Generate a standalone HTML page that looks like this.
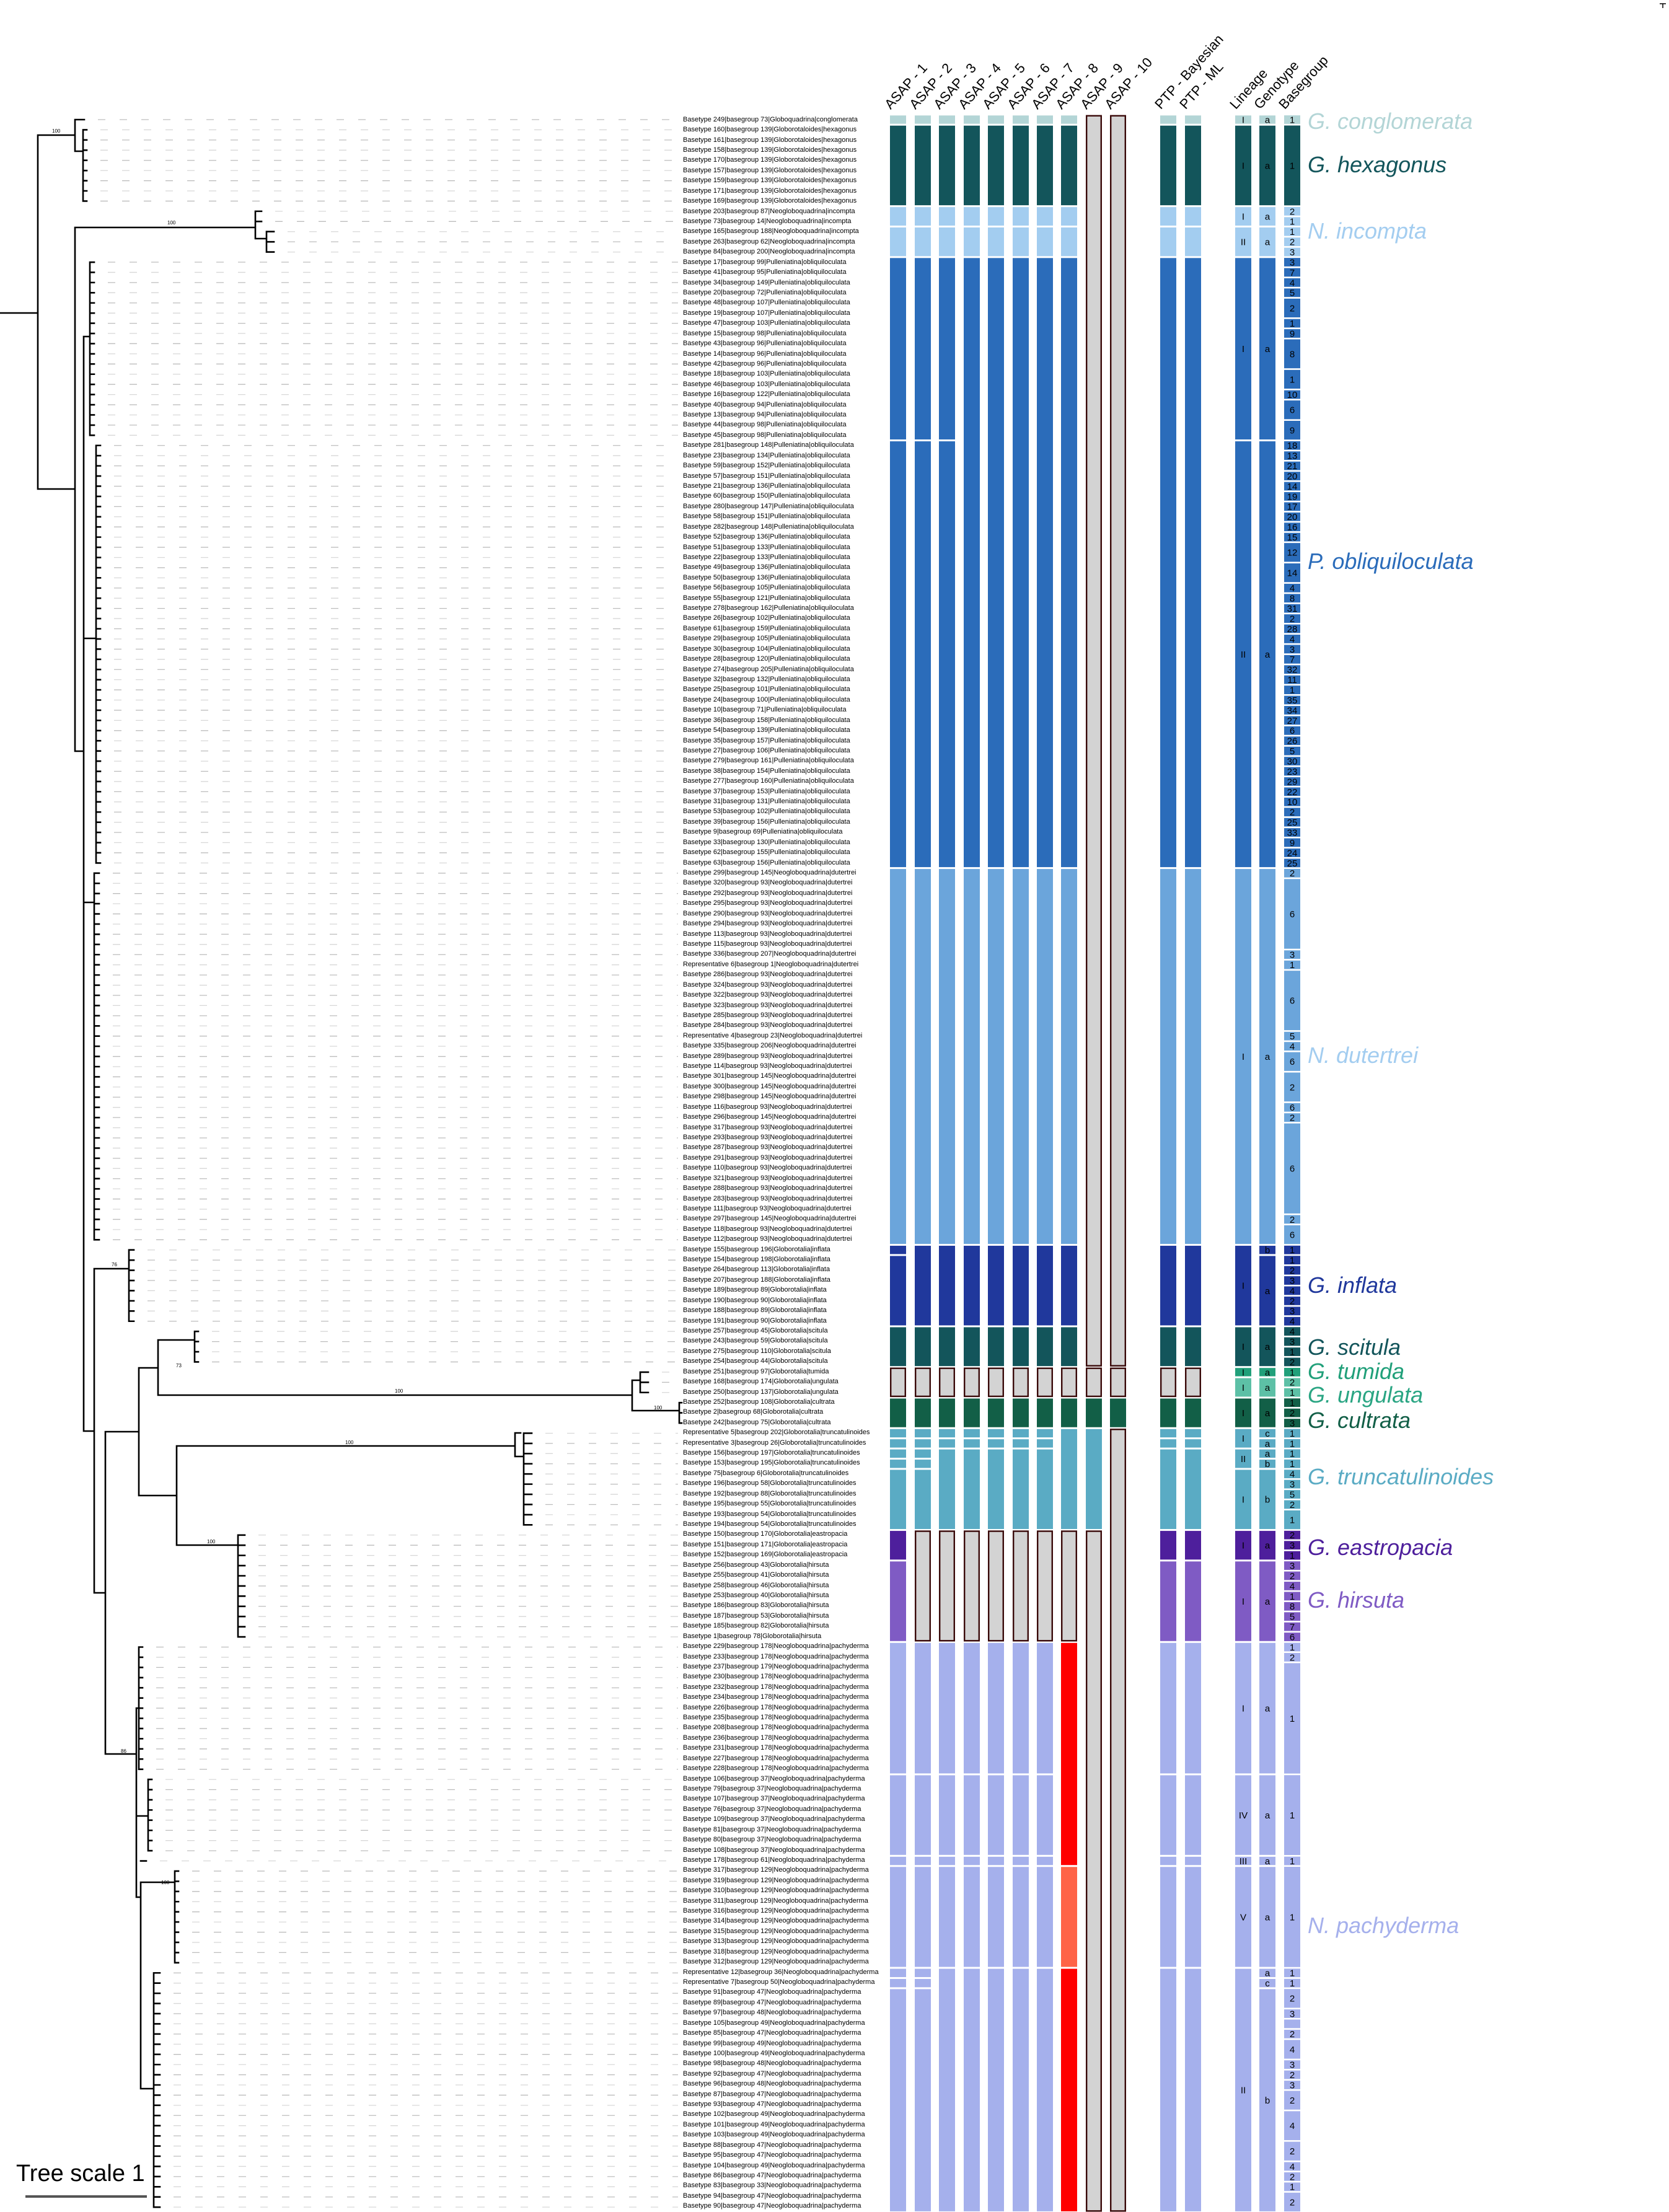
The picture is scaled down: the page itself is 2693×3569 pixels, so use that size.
<!DOCTYPE html>
<html><head><meta charset="utf-8">
<style>
html,body{margin:0;padding:0;background:#fff;}
body{width:2693px;height:3569px;position:relative;overflow:hidden;font-family:"Liberation Sans",sans-serif;}
#labels{position:absolute;left:1102px;top:184.8px;font-size:11px;color:#000;white-space:nowrap;}
#labels div{height:16.43px;line-height:16.43px;}
.hd{position:absolute;font-size:22px;color:#000;transform-origin:0 100%;transform:rotate(-48deg);white-space:nowrap;line-height:22px;}
.sp{position:absolute;left:2110px;font-style:italic;font-size:36px;line-height:40px;white-space:nowrap;}
#svg{position:absolute;left:0;top:0;}
</style></head><body>
<svg id="svg" width="2693" height="3569" xmlns="http://www.w3.org/2000/svg"></svg>

<div class="hd" style="left:1440px;top:158px">ASAP - 1</div>
<div class="hd" style="left:1480px;top:158px">ASAP - 2</div>
<div class="hd" style="left:1519px;top:158px">ASAP - 3</div>
<div class="hd" style="left:1559px;top:158px">ASAP - 4</div>
<div class="hd" style="left:1598px;top:158px">ASAP - 5</div>
<div class="hd" style="left:1638px;top:158px">ASAP - 6</div>
<div class="hd" style="left:1677px;top:158px">ASAP - 7</div>
<div class="hd" style="left:1716px;top:158px">ASAP - 8</div>
<div class="hd" style="left:1756px;top:158px">ASAP - 9</div>
<div class="hd" style="left:1795px;top:158px">ASAP - 10</div>
<div class="hd" style="left:1876px;top:158px">PTP - Bayesian</div>
<div class="hd" style="left:1916px;top:158px">PTP - ML</div>
<div class="hd" style="left:1997px;top:158px">Lineage</div>
<div class="hd" style="left:2036px;top:158px">Genotype</div>
<div class="hd" style="left:2076px;top:158px">Basegroup</div>

<div class="sp" style="top:176px;color:#b3d5d6">G. conglomerata</div>
<div class="sp" style="top:246px;color:#13555b">G. hexagonus</div>
<div class="sp" style="top:353px;color:#a3cdf0">N. incompta</div>
<div class="sp" style="top:886px;color:#2b6cba">P. obliquiloculata</div>
<div class="sp" style="top:1683px;color:#a3cdf0">N. dutertrei</div>
<div class="sp" style="top:2054px;color:#20389c">G. inflata</div>
<div class="sp" style="top:2154px;color:#13555b">G. scitula</div>
<div class="sp" style="top:2193px;color:#21a07a">G. tumida</div>
<div class="sp" style="top:2231px;color:#2aa583">G. ungulata</div>
<div class="sp" style="top:2272px;color:#125f47">G. cultrata</div>
<div class="sp" style="top:2363px;color:#5aabc4">G. truncatulinoides</div>
<div class="sp" style="top:2477px;color:#4e1f9c">G. eastropacia</div>
<div class="sp" style="top:2562px;color:#7f5bc4">G. hirsuta</div>
<div class="sp" style="top:3087px;color:#a5b0ec">N. pachyderma</div>

<div style="position:absolute;left:26px;top:3486px;font-size:38px;line-height:42px;">Tree scale 1</div>

<div id="labels">
<div>Basetype 249|basegroup 73|Globoquadrina|conglomerata</div>
<div>Basetype 160|basegroup 139|Globorotaloides|hexagonus</div>
<div>Basetype 161|basegroup 139|Globorotaloides|hexagonus</div>
<div>Basetype 158|basegroup 139|Globorotaloides|hexagonus</div>
<div>Basetype 170|basegroup 139|Globorotaloides|hexagonus</div>
<div>Basetype 157|basegroup 139|Globorotaloides|hexagonus</div>
<div>Basetype 159|basegroup 139|Globorotaloides|hexagonus</div>
<div>Basetype 171|basegroup 139|Globorotaloides|hexagonus</div>
<div>Basetype 169|basegroup 139|Globorotaloides|hexagonus</div>
<div>Basetype 203|basegroup 87|Neogloboquadrina|incompta</div>
<div>Basetype 73|basegroup 14|Neogloboquadrina|incompta</div>
<div>Basetype 165|basegroup 188|Neogloboquadrina|incompta</div>
<div>Basetype 263|basegroup 62|Neogloboquadrina|incompta</div>
<div>Basetype 84|basegroup 200|Neogloboquadrina|incompta</div>
<div>Basetype 17|basegroup 99|Pulleniatina|obliquiloculata</div>
<div>Basetype 41|basegroup 95|Pulleniatina|obliquiloculata</div>
<div>Basetype 34|basegroup 149|Pulleniatina|obliquiloculata</div>
<div>Basetype 20|basegroup 72|Pulleniatina|obliquiloculata</div>
<div>Basetype 48|basegroup 107|Pulleniatina|obliquiloculata</div>
<div>Basetype 19|basegroup 107|Pulleniatina|obliquiloculata</div>
<div>Basetype 47|basegroup 103|Pulleniatina|obliquiloculata</div>
<div>Basetype 15|basegroup 98|Pulleniatina|obliquiloculata</div>
<div>Basetype 43|basegroup 96|Pulleniatina|obliquiloculata</div>
<div>Basetype 14|basegroup 96|Pulleniatina|obliquiloculata</div>
<div>Basetype 42|basegroup 96|Pulleniatina|obliquiloculata</div>
<div>Basetype 18|basegroup 103|Pulleniatina|obliquiloculata</div>
<div>Basetype 46|basegroup 103|Pulleniatina|obliquiloculata</div>
<div>Basetype 16|basegroup 122|Pulleniatina|obliquiloculata</div>
<div>Basetype 40|basegroup 94|Pulleniatina|obliquiloculata</div>
<div>Basetype 13|basegroup 94|Pulleniatina|obliquiloculata</div>
<div>Basetype 44|basegroup 98|Pulleniatina|obliquiloculata</div>
<div>Basetype 45|basegroup 98|Pulleniatina|obliquiloculata</div>
<div>Basetype 281|basegroup 148|Pulleniatina|obliquiloculata</div>
<div>Basetype 23|basegroup 134|Pulleniatina|obliquiloculata</div>
<div>Basetype 59|basegroup 152|Pulleniatina|obliquiloculata</div>
<div>Basetype 57|basegroup 151|Pulleniatina|obliquiloculata</div>
<div>Basetype 21|basegroup 136|Pulleniatina|obliquiloculata</div>
<div>Basetype 60|basegroup 150|Pulleniatina|obliquiloculata</div>
<div>Basetype 280|basegroup 147|Pulleniatina|obliquiloculata</div>
<div>Basetype 58|basegroup 151|Pulleniatina|obliquiloculata</div>
<div>Basetype 282|basegroup 148|Pulleniatina|obliquiloculata</div>
<div>Basetype 52|basegroup 136|Pulleniatina|obliquiloculata</div>
<div>Basetype 51|basegroup 133|Pulleniatina|obliquiloculata</div>
<div>Basetype 22|basegroup 133|Pulleniatina|obliquiloculata</div>
<div>Basetype 49|basegroup 136|Pulleniatina|obliquiloculata</div>
<div>Basetype 50|basegroup 136|Pulleniatina|obliquiloculata</div>
<div>Basetype 56|basegroup 105|Pulleniatina|obliquiloculata</div>
<div>Basetype 55|basegroup 121|Pulleniatina|obliquiloculata</div>
<div>Basetype 278|basegroup 162|Pulleniatina|obliquiloculata</div>
<div>Basetype 26|basegroup 102|Pulleniatina|obliquiloculata</div>
<div>Basetype 61|basegroup 159|Pulleniatina|obliquiloculata</div>
<div>Basetype 29|basegroup 105|Pulleniatina|obliquiloculata</div>
<div>Basetype 30|basegroup 104|Pulleniatina|obliquiloculata</div>
<div>Basetype 28|basegroup 120|Pulleniatina|obliquiloculata</div>
<div>Basetype 274|basegroup 205|Pulleniatina|obliquiloculata</div>
<div>Basetype 32|basegroup 132|Pulleniatina|obliquiloculata</div>
<div>Basetype 25|basegroup 101|Pulleniatina|obliquiloculata</div>
<div>Basetype 24|basegroup 100|Pulleniatina|obliquiloculata</div>
<div>Basetype 10|basegroup 71|Pulleniatina|obliquiloculata</div>
<div>Basetype 36|basegroup 158|Pulleniatina|obliquiloculata</div>
<div>Basetype 54|basegroup 139|Pulleniatina|obliquiloculata</div>
<div>Basetype 35|basegroup 157|Pulleniatina|obliquiloculata</div>
<div>Basetype 27|basegroup 106|Pulleniatina|obliquiloculata</div>
<div>Basetype 279|basegroup 161|Pulleniatina|obliquiloculata</div>
<div>Basetype 38|basegroup 154|Pulleniatina|obliquiloculata</div>
<div>Basetype 277|basegroup 160|Pulleniatina|obliquiloculata</div>
<div>Basetype 37|basegroup 153|Pulleniatina|obliquiloculata</div>
<div>Basetype 31|basegroup 131|Pulleniatina|obliquiloculata</div>
<div>Basetype 53|basegroup 102|Pulleniatina|obliquiloculata</div>
<div>Basetype 39|basegroup 156|Pulleniatina|obliquiloculata</div>
<div>Basetype 9|basegroup 69|Pulleniatina|obliquiloculata</div>
<div>Basetype 33|basegroup 130|Pulleniatina|obliquiloculata</div>
<div>Basetype 62|basegroup 155|Pulleniatina|obliquiloculata</div>
<div>Basetype 63|basegroup 156|Pulleniatina|obliquiloculata</div>
<div>Basetype 299|basegroup 145|Neogloboquadrina|dutertrei</div>
<div>Basetype 320|basegroup 93|Neogloboquadrina|dutertrei</div>
<div>Basetype 292|basegroup 93|Neogloboquadrina|dutertrei</div>
<div>Basetype 295|basegroup 93|Neogloboquadrina|dutertrei</div>
<div>Basetype 290|basegroup 93|Neogloboquadrina|dutertrei</div>
<div>Basetype 294|basegroup 93|Neogloboquadrina|dutertrei</div>
<div>Basetype 113|basegroup 93|Neogloboquadrina|dutertrei</div>
<div>Basetype 115|basegroup 93|Neogloboquadrina|dutertrei</div>
<div>Basetype 336|basegroup 207|Neogloboquadrina|dutertrei</div>
<div>Representative 6|basegroup 1|Neogloboquadrina|dutertrei</div>
<div>Basetype 286|basegroup 93|Neogloboquadrina|dutertrei</div>
<div>Basetype 324|basegroup 93|Neogloboquadrina|dutertrei</div>
<div>Basetype 322|basegroup 93|Neogloboquadrina|dutertrei</div>
<div>Basetype 323|basegroup 93|Neogloboquadrina|dutertrei</div>
<div>Basetype 285|basegroup 93|Neogloboquadrina|dutertrei</div>
<div>Basetype 284|basegroup 93|Neogloboquadrina|dutertrei</div>
<div>Representative 4|basegroup 23|Neogloboquadrina|dutertrei</div>
<div>Basetype 335|basegroup 206|Neogloboquadrina|dutertrei</div>
<div>Basetype 289|basegroup 93|Neogloboquadrina|dutertrei</div>
<div>Basetype 114|basegroup 93|Neogloboquadrina|dutertrei</div>
<div>Basetype 301|basegroup 145|Neogloboquadrina|dutertrei</div>
<div>Basetype 300|basegroup 145|Neogloboquadrina|dutertrei</div>
<div>Basetype 298|basegroup 145|Neogloboquadrina|dutertrei</div>
<div>Basetype 116|basegroup 93|Neogloboquadrina|dutertrei</div>
<div>Basetype 296|basegroup 145|Neogloboquadrina|dutertrei</div>
<div>Basetype 317|basegroup 93|Neogloboquadrina|dutertrei</div>
<div>Basetype 293|basegroup 93|Neogloboquadrina|dutertrei</div>
<div>Basetype 287|basegroup 93|Neogloboquadrina|dutertrei</div>
<div>Basetype 291|basegroup 93|Neogloboquadrina|dutertrei</div>
<div>Basetype 110|basegroup 93|Neogloboquadrina|dutertrei</div>
<div>Basetype 321|basegroup 93|Neogloboquadrina|dutertrei</div>
<div>Basetype 288|basegroup 93|Neogloboquadrina|dutertrei</div>
<div>Basetype 283|basegroup 93|Neogloboquadrina|dutertrei</div>
<div>Basetype 111|basegroup 93|Neogloboquadrina|dutertrei</div>
<div>Basetype 297|basegroup 145|Neogloboquadrina|dutertrei</div>
<div>Basetype 118|basegroup 93|Neogloboquadrina|dutertrei</div>
<div>Basetype 112|basegroup 93|Neogloboquadrina|dutertrei</div>
<div>Basetype 155|basegroup 196|Globorotalia|inflata</div>
<div>Basetype 154|basegroup 198|Globorotalia|inflata</div>
<div>Basetype 264|basegroup 113|Globorotalia|inflata</div>
<div>Basetype 207|basegroup 188|Globorotalia|inflata</div>
<div>Basetype 189|basegroup 89|Globorotalia|inflata</div>
<div>Basetype 190|basegroup 90|Globorotalia|inflata</div>
<div>Basetype 188|basegroup 89|Globorotalia|inflata</div>
<div>Basetype 191|basegroup 90|Globorotalia|inflata</div>
<div>Basetype 257|basegroup 45|Globorotalia|scitula</div>
<div>Basetype 243|basegroup 59|Globorotalia|scitula</div>
<div>Basetype 275|basegroup 110|Globorotalia|scitula</div>
<div>Basetype 254|basegroup 44|Globorotalia|scitula</div>
<div>Basetype 251|basegroup 97|Globorotalia|tumida</div>
<div>Basetype 168|basegroup 174|Globorotalia|ungulata</div>
<div>Basetype 250|basegroup 137|Globorotalia|ungulata</div>
<div>Basetype 252|basegroup 108|Globorotalia|cultrata</div>
<div>Basetype 2|basegroup 68|Globorotalia|cultrata</div>
<div>Basetype 242|basegroup 75|Globorotalia|cultrata</div>
<div>Representative 5|basegroup 202|Globorotalia|truncatulinoides</div>
<div>Representative 3|basegroup 26|Globorotalia|truncatulinoides</div>
<div>Basetype 156|basegroup 197|Globorotalia|truncatulinoides</div>
<div>Basetype 153|basegroup 195|Globorotalia|truncatulinoides</div>
<div>Basetype 75|basegroup 6|Globorotalia|truncatulinoides</div>
<div>Basetype 196|basegroup 58|Globorotalia|truncatulinoides</div>
<div>Basetype 192|basegroup 88|Globorotalia|truncatulinoides</div>
<div>Basetype 195|basegroup 55|Globorotalia|truncatulinoides</div>
<div>Basetype 193|basegroup 54|Globorotalia|truncatulinoides</div>
<div>Basetype 194|basegroup 54|Globorotalia|truncatulinoides</div>
<div>Basetype 150|basegroup 170|Globorotalia|eastropacia</div>
<div>Basetype 151|basegroup 171|Globorotalia|eastropacia</div>
<div>Basetype 152|basegroup 169|Globorotalia|eastropacia</div>
<div>Basetype 256|basegroup 43|Globorotalia|hirsuta</div>
<div>Basetype 255|basegroup 41|Globorotalia|hirsuta</div>
<div>Basetype 258|basegroup 46|Globorotalia|hirsuta</div>
<div>Basetype 253|basegroup 40|Globorotalia|hirsuta</div>
<div>Basetype 186|basegroup 83|Globorotalia|hirsuta</div>
<div>Basetype 187|basegroup 53|Globorotalia|hirsuta</div>
<div>Basetype 185|basegroup 82|Globorotalia|hirsuta</div>
<div>Basetype 1|basegroup 78|Globorotalia|hirsuta</div>
<div>Basetype 229|basegroup 178|Neogloboquadrina|pachyderma</div>
<div>Basetype 233|basegroup 178|Neogloboquadrina|pachyderma</div>
<div>Basetype 237|basegroup 179|Neogloboquadrina|pachyderma</div>
<div>Basetype 230|basegroup 178|Neogloboquadrina|pachyderma</div>
<div>Basetype 232|basegroup 178|Neogloboquadrina|pachyderma</div>
<div>Basetype 234|basegroup 178|Neogloboquadrina|pachyderma</div>
<div>Basetype 226|basegroup 178|Neogloboquadrina|pachyderma</div>
<div>Basetype 235|basegroup 178|Neogloboquadrina|pachyderma</div>
<div>Basetype 208|basegroup 178|Neogloboquadrina|pachyderma</div>
<div>Basetype 236|basegroup 178|Neogloboquadrina|pachyderma</div>
<div>Basetype 231|basegroup 178|Neogloboquadrina|pachyderma</div>
<div>Basetype 227|basegroup 178|Neogloboquadrina|pachyderma</div>
<div>Basetype 228|basegroup 178|Neogloboquadrina|pachyderma</div>
<div>Basetype 106|basegroup 37|Neogloboquadrina|pachyderma</div>
<div>Basetype 79|basegroup 37|Neogloboquadrina|pachyderma</div>
<div>Basetype 107|basegroup 37|Neogloboquadrina|pachyderma</div>
<div>Basetype 76|basegroup 37|Neogloboquadrina|pachyderma</div>
<div>Basetype 109|basegroup 37|Neogloboquadrina|pachyderma</div>
<div>Basetype 81|basegroup 37|Neogloboquadrina|pachyderma</div>
<div>Basetype 80|basegroup 37|Neogloboquadrina|pachyderma</div>
<div>Basetype 108|basegroup 37|Neogloboquadrina|pachyderma</div>
<div>Basetype 178|basegroup 61|Neogloboquadrina|pachyderma</div>
<div>Basetype 317|basegroup 129|Neogloboquadrina|pachyderma</div>
<div>Basetype 319|basegroup 129|Neogloboquadrina|pachyderma</div>
<div>Basetype 310|basegroup 129|Neogloboquadrina|pachyderma</div>
<div>Basetype 311|basegroup 129|Neogloboquadrina|pachyderma</div>
<div>Basetype 316|basegroup 129|Neogloboquadrina|pachyderma</div>
<div>Basetype 314|basegroup 129|Neogloboquadrina|pachyderma</div>
<div>Basetype 315|basegroup 129|Neogloboquadrina|pachyderma</div>
<div>Basetype 313|basegroup 129|Neogloboquadrina|pachyderma</div>
<div>Basetype 318|basegroup 129|Neogloboquadrina|pachyderma</div>
<div>Basetype 312|basegroup 129|Neogloboquadrina|pachyderma</div>
<div>Representative 12|basegroup 36|Neogloboquadrina|pachyderma</div>
<div>Representative 7|basegroup 50|Neogloboquadrina|pachyderma</div>
<div>Basetype 91|basegroup 47|Neogloboquadrina|pachyderma</div>
<div>Basetype 89|basegroup 47|Neogloboquadrina|pachyderma</div>
<div>Basetype 97|basegroup 48|Neogloboquadrina|pachyderma</div>
<div>Basetype 105|basegroup 49|Neogloboquadrina|pachyderma</div>
<div>Basetype 85|basegroup 47|Neogloboquadrina|pachyderma</div>
<div>Basetype 99|basegroup 49|Neogloboquadrina|pachyderma</div>
<div>Basetype 100|basegroup 49|Neogloboquadrina|pachyderma</div>
<div>Basetype 98|basegroup 48|Neogloboquadrina|pachyderma</div>
<div>Basetype 92|basegroup 47|Neogloboquadrina|pachyderma</div>
<div>Basetype 96|basegroup 48|Neogloboquadrina|pachyderma</div>
<div>Basetype 87|basegroup 47|Neogloboquadrina|pachyderma</div>
<div>Basetype 93|basegroup 47|Neogloboquadrina|pachyderma</div>
<div>Basetype 102|basegroup 49|Neogloboquadrina|pachyderma</div>
<div>Basetype 101|basegroup 49|Neogloboquadrina|pachyderma</div>
<div>Basetype 103|basegroup 49|Neogloboquadrina|pachyderma</div>
<div>Basetype 88|basegroup 47|Neogloboquadrina|pachyderma</div>
<div>Basetype 95|basegroup 47|Neogloboquadrina|pachyderma</div>
<div>Basetype 104|basegroup 49|Neogloboquadrina|pachyderma</div>
<div>Basetype 86|basegroup 47|Neogloboquadrina|pachyderma</div>
<div>Basetype 83|basegroup 33|Neogloboquadrina|pachyderma</div>
<div>Basetype 94|basegroup 47|Neogloboquadrina|pachyderma</div>
<div>Basetype 90|basegroup 47|Neogloboquadrina|pachyderma</div>
</div>

<script>
(function(){
var C={cg:'#b3d5d6',hx:'#13555b',ic:'#a3cdf0',ob:'#2b6cba',du:'#6ba5db',inf:'#20389c',sc:'#13555b',tu:'#21a07a',un:'#5dc0a6',cu:'#125f47',tr:'#5aabc4',ea:'#4e1f9c',hi:'#7f5bc4',pa:'#a5b0ec',red:'#ff0000',sal:'#ff6347'};
function rowKey(i){
 if(i==0)return'cg'; if(i<=8)return'hx'; if(i<=13)return'ic'; if(i<=73)return'ob'; if(i<=110)return'du';
 if(i<=118)return'inf'; if(i<=122)return'sc'; if(i==123)return'tu'; if(i<=125)return'un'; if(i<=128)return'cu';
 if(i<=138)return'tr'; if(i<=141)return'ea'; if(i<=149)return'hi'; return'pa';}
function Y(i){return 193+16.43*i;}
var out=[];
function seg(x,a,b,key,gap){
 gap=gap||1.5;
 var y1=Y(a)-8.2+gap, y2=Y(b)+8.2-gap;
 if(key=='G'){out.push('<rect x="'+(x+1.2)+'" y="'+(y1+0.5)+'" width="23.6" height="'+(y2-y1-1)+'" fill="#d3d3d3" stroke="#3a0a0a" stroke-width="2.4"/>');}
 else out.push('<rect x="'+x+'" y="'+y1+'" width="26" height="'+(y2-y1)+'" fill="'+(C[key]||key)+'"/>');
 return [y1,y2];
}
function txt(x,y,t,size){out.push('<text x="'+(x+13)+'" y="'+(y+size*0.36)+'" font-family="Liberation Sans, sans-serif" font-size="'+size+'" text-anchor="middle" fill="#000">'+t+'</text>');}
// standard segments
function std(opt){
 var s=[[0,0,'cg'],[1,8,'hx'],[9,10,'ic'],[11,13,'ic']];
 if(opt.obs)s.push([14,31,'ob'],[32,73,'ob']);else s.push([14,73,'ob']);
 s.push([74,110,'du']);
 if(opt.infs)s.push([111,111,'inf'],[112,118,'inf']);else s.push([111,118,'inf']);
 s.push([119,122,'sc'],[123,125,'G'],[126,128,'cu']);
 if(opt.tr==5)s.push([129,129,'tr'],[130,130,'tr'],[131,131,'tr'],[132,132,'tr'],[133,138,'tr']);
 else if(opt.tr==1)s.push([129,138,'tr']);
 else s.push([129,129,'tr'],[130,130,'tr'],[131,138,'tr']);
 if(opt.eaG)s.push([139,149,'G']);else s.push([139,141,'ea'],[142,149,'hi']);
 if(opt.red)s.push([150,171,'red'],[172,181,'sal'],[182,205,'red']);
 else{s.push([150,162,'pa'],[163,170,'pa'],[171,171,'pa'],[172,181,'pa']);
  if(opt.pas)s.push([182,182,'pa'],[183,183,'pa'],[184,205,'pa']);else s.push([182,205,'pa']);}
 return s;}
var cols=[1436,1476,1515,1555,1594,1634,1673,1712,1752,1791,1872,1912,1993,2032,2072];
var defs=[
 std({obs:1,infs:1,tr:5,pas:1}),
 std({obs:1,tr:5,eaG:1,pas:1}),
 std({obs:1,eaG:1}),
 std({eaG:1}),std({eaG:1}),std({eaG:1}),std({eaG:1}),
 std({tr:1,eaG:1,red:1}),
 [[0,122,'G'],[123,125,'G'],[126,128,'cu'],[129,138,'tr'],[139,205,'G']],
 [[0,122,'G'],[123,125,'G'],[126,128,'cu'],[129,205,'G']],
 std({}),std({})
];
for(var c=0;c<defs.length;c++){defs[c].forEach(function(s){seg(cols[c],s[0],s[1],s[2]);});}
// lineage
var lin=[[0,0,'I'],[1,8,'I'],[9,10,'I'],[11,13,'II'],[14,31,'I'],[32,73,'II'],[74,110,'I'],[111,118,'I'],[119,122,'I'],[123,123,'I'],[124,125,'I'],[126,128,'I'],[129,130,'I'],[131,132,'II'],[133,138,'I'],[139,141,'I'],[142,149,'I'],[150,162,'I'],[163,170,'IV'],[171,171,'III'],[172,181,'V'],[182,205,'II']];
lin.forEach(function(s){seg(cols[12],s[0],s[1],rowKey(s[0]));txt(cols[12],(Y(s[0])+Y(s[1]))/2,s[2],15);});
var gen=[[0,0,'a'],[1,8,'a'],[9,10,'a'],[11,13,'a'],[14,31,'a'],[32,73,'a'],[74,110,'a'],[111,111,'b'],[112,118,'a'],[119,122,'a'],[123,123,'a'],[124,125,'a'],[126,128,'a'],[129,129,'c'],[130,130,'a'],[131,131,'a'],[132,132,'b'],[133,138,'b'],[139,141,'a'],[142,149,'a'],[150,162,'a'],[163,170,'a'],[171,171,'a'],[172,181,'a'],[182,182,'a'],[183,183,'c'],[184,205,'b']];
gen.forEach(function(s){seg(cols[13],s[0],s[1],rowKey(s[0]));txt(cols[13],(Y(s[0])+Y(s[1]))/2,s[2],15);});
var bg=[['1',1],['1',8],['2',1],['1',1],['1',1],['2',1],['3',1],
['3',1],['7',1],['4',1],['5',1],['2',2],['1',1],['9',1],['8',3],['1',2],['10',1],['6',2],['9',2],
['18',1],['13',1],['21',1],['20',1],['14',1],['19',1],['17',1],['20',1],['16',1],['15',1],['12',2],['14',2],['4',1],['8',1],['31',1],['2',1],['28',1],['4',1],['3',1],['7',1],['32',1],['11',1],['1',1],['35',1],['34',1],['27',1],['6',1],['26',1],['5',1],['30',1],['23',1],['29',1],['22',1],['10',1],['2',1],['25',1],['33',1],['9',1],['24',1],['25',1],
['2',1],['6',7],['3',1],['1',1],['6',6],['5',1],['4',1],['6',2],['2',3],['6',1],['2',1],['6',9],['2',1],['6',2],
['1',1],['1',1],['2',1],['3',1],['4',1],['2',1],['3',1],['4',1],
['4',1],['3',1],['1',1],['2',1],
['1',1],['2',1],['1',1],['1',1],['2',1],['3',1],
['1',1],['1',1],['1',1],['1',1],['4',1],['3',1],['5',1],['2',1],['1',2],
['2',1],['3',1],['1',1],['3',1],['2',1],['4',1],['1',1],['8',1],['5',1],['7',1],['6',1],
['1',1],['2',1],['1',11],['1',8],['1',1],['1',10],['1',1],['1',1],
['2',2],['3',1],['',1],['2',1],['4',2],['3',1],['2',1],['3',1],['2',2],['4',3],['2',2],['4',1],['2',1],['1',1],['2',2]];
var r=0;
bg.forEach(function(b){var a=r,e=r+b[1]-1;seg(cols[14],a,e,rowKey(a),1.3);if(b[0])txt(cols[14],(Y(a)+Y(e))/2,b[0],15);r=e+1;});
// leader dashes
function tip(i){
 if(i==0)return 136;if(i<=8)return 140;if(i<=10)return 422;if(i<=13)return 442;if(i<=31)return 152;if(i<=73)return 162;
 if(i<=110)return 160;if(i<=118)return 216;if(i<=122)return 320;if(i<=125)return 1046;if(i<=128)return 1100;
 if(i<=138)return 858;if(i<=149)return 395;if(i<=162)return 230;if(i<=170)return 245;if(i==171)return 236;if(i<=181)return 288;return 258;}
for(var i=0;i<206;i++){var t=tip(i),y=Y(i);
 if(t<1080)out.push('<line x1="'+(t+22)+'" y1="'+y+'" x2="1094" y2="'+y+'" stroke="'+(i%2?'#d8d8d8':'#bdbdbd')+'" stroke-width="1.3" stroke-dasharray="12 23"/>');
}
// tree
var P=[];
function L(x1,y1,x2,y2){P.push('M'+x1+' '+y1+'L'+x2+' '+y2);}
function clade(a,b,vx,tx){L(vx,Y(a),vx,Y(b));for(var i=a;i<=b;i++)L(vx,Y(i),tx,Y(i));}
L(0,505,61,505);L(61,218,61,789);
L(61,218,121,218);L(121,194,121,244);L(121,193,136,193);L(121,244,134,244);clade(1,8,134,140);
L(61,789,121,789);L(121,367,121,1212);
L(121,367,412,367);L(412,342,412,385);L(412,Y(9),422,Y(9));L(412,Y(10),422,Y(10));L(412,385,430,385);clade(11,13,430,442);
L(121,1212,135,1212);L(135,543,135,2309);
L(135,543,145,543);clade(14,31,145,152);L(135,1030,155,1030);clade(32,73,155,162);
L(135,1456,152,1456);clade(74,110,152,160);
L(135,2309,152,2309);L(152,2047,152,2570);
L(152,2047,208,2047);clade(111,118,208,216);
L(152,2570,170,2570);L(170,2310,170,2830);
L(170,2310,224,2310);L(224,2207,224,2413);
L(224,2207,255,2207);L(255,2162,255,2251);
L(255,2162,314,2162);clade(119,122,314,320);
L(255,2251,1020,2251);L(1020,2227,1020,2276);
L(1020,2227,1033,2227);clade(123,125,1033,1046);
L(1020,2276,1096,2276);clade(126,128,1096,1100);
L(224,2413,285,2413);L(285,2333,285,2493);
L(285,2333,831,2333);L(831,2312,831,2350);L(831,2312,840,2312);L(831,2350,845,2350);clade(129,138,845,858);
L(285,2493,384,2493);clade(139,149,384,395);
L(170,2830,220,2830);L(220,2756,220,3061);
L(220,2756,224,2756);clade(150,162,224,230);
L(220,2930,239,2930);clade(163,170,239,245);
L(220,3061,227,3061);L(227,3037,227,3370);
L(227,Y(171),236,Y(171));
L(227,3037,282,3037);clade(172,181,282,288);
L(227,3370,248,3370);clade(182,205,248,258);
out.push('<path d="'+P.join('')+'" stroke="#000" stroke-width="2.6" fill="none" stroke-linecap="square"/>');
// bootstrap labels
var bs=[[84,214,'100'],[270,362,'100'],[180,2043,'76'],[284,2206,'73'],[637,2247,'100'],[557,2330,'100'],[334,2490,'100'],[195,2828,'86'],[1055,2274,'100'],[260,3040,'100']];
bs.forEach(function(b){out.push('<text x="'+b[0]+'" y="'+b[1]+'" font-family="Liberation Sans, sans-serif" font-size="8" fill="#000">'+b[2]+'</text>');});
// scale bar & corner mark
out.push('<line x1="41" y1="3544" x2="237" y2="3544" stroke="#555" stroke-width="4"/>');
out.push('<line x1="2678" y1="6" x2="2688" y2="6" stroke="#000" stroke-width="1.5"/><line x1="2683" y1="6" x2="2683" y2="13" stroke="#000" stroke-width="1.5"/>');
document.getElementById('svg').innerHTML=out.join('');
})();
</script>
</body></html>
